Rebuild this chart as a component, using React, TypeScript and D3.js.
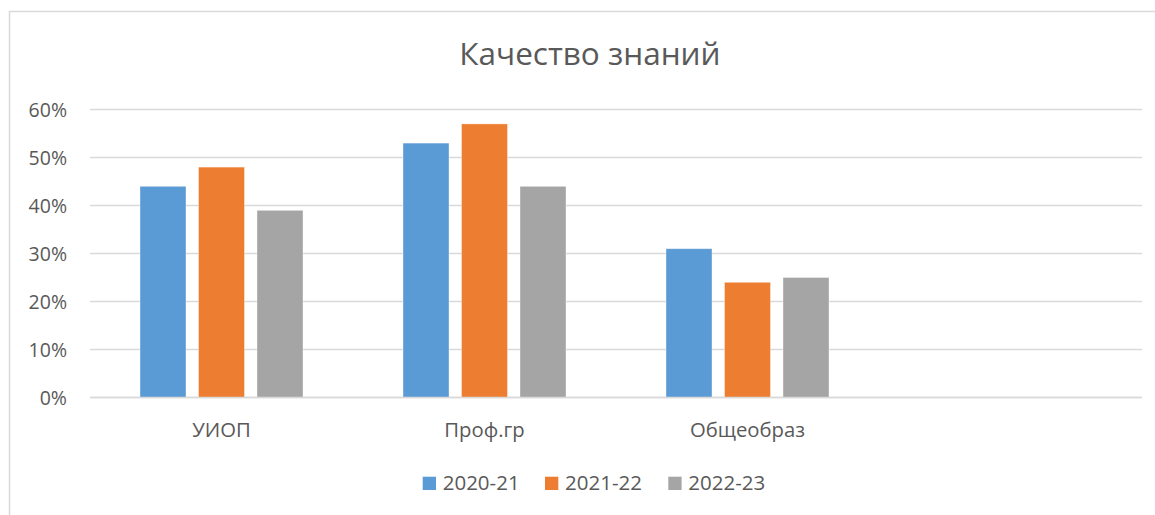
import React from "react";
import * as d3 from "d3";

const title = "Качество знаний";
const categories = ["УИОП", "Проф.гр", "Общеобраз", ""];
const seriesNames = ["2020-21", "2021-22", "2022-23"];
const values2020 = [0.44, 0.53, 0.31];
const values2021 = [0.48, 0.57, 0.24];
const values2022 = [0.39, 0.44, 0.25];
const seriesColors = ["#5B9BD5", "#ED7D31", "#A5A5A5"];
const yTicks = [0, 0.1, 0.2, 0.3, 0.4, 0.5, 0.6];

const W = 1155;
const H = 515;
const FONT = "'Open Sans', sans-serif";
const TEXT = "#595959";
const GRID = "#D9D9D9";

export default function App() {
  const series = [values2020, values2021, values2022];
  const x0 = d3.scaleBand<string>().domain(categories).range([90, 1142]).paddingInner(0).paddingOuter(0);
  const groupPad = 50;
  const x1 = d3
    .scaleBand<string>()
    .domain(seriesNames)
    .range([groupPad, x0.bandwidth() - groupPad])
    .paddingInner(0.214)
    .paddingOuter(0);
  const y = d3.scaleLinear().domain([0, 0.6]).range([397.5, 109.5]);
  const fmt = d3.format(".0%");

  const legendX = [422.7, 545, 668.3];

  return (
    <svg
      width={W}
      height={H}
      style={{ position: "absolute", left: 0, top: 0, display: "block", background: "#fff" }}
    >
      <rect x={9.5} y={11.5} width={1200} height={600} fill="#fff" stroke={GRID} strokeWidth={1.5} />
      <text x={590} y={65} textAnchor="middle" fontFamily={FONT} fontSize={31.5} fill={TEXT}>
        {title}
      </text>
      {yTicks.map((t) => (
        <g key={t}>
          <line x1={90} x2={1142} y1={y(t)} y2={y(t)} stroke={GRID} strokeWidth={1.3} />
          <text x={67} y={y(t) + 7.2} textAnchor="end" fontFamily={FONT} fontSize={19.5} fill={TEXT}>
            {fmt(t)}
          </text>
        </g>
      ))}
      {categories.map((c, ci) =>
        ci < values2020.length ? (
          <g key={c} transform={`translate(${x0(c)},0)`}>
            {seriesNames.map((s, si) => {
              const v = series[si][ci];
              return (
                <rect
                  key={s}
                  x={x1(s)}
                  y={y(v)}
                  width={x1.bandwidth()}
                  height={y(0) - y(v)}
                  fill={seriesColors[si]}
                  stroke="#ffffff"
                  strokeOpacity={0.45}
                  strokeWidth={0.8}
                />
              );
            })}
          </g>
        ) : null
      )}
      <line x1={90} x2={1142} y1={y(0)} y2={y(0)} stroke={GRID} strokeWidth={1.3} />
      {categories.map((c) => (
        <text
          key={"l" + c}
          x={(x0(c) as number) + x0.bandwidth() / 2}
          y={437}
          textAnchor="middle"
          fontFamily={FONT}
          fontSize={20.3}
          fill={TEXT}
        >
          {c}
        </text>
      ))}
      {seriesNames.map((s, i) => (
        <g key={"lg" + s}>
          <rect x={legendX[i]} y={476.7} width={13.3} height={13.3} fill={seriesColors[i]} />
          <text x={legendX[i] + 20} y={490} fontFamily={FONT} fontSize={20.5} fill={TEXT}>
            {s}
          </text>
        </g>
      ))}
    </svg>
  );
}
